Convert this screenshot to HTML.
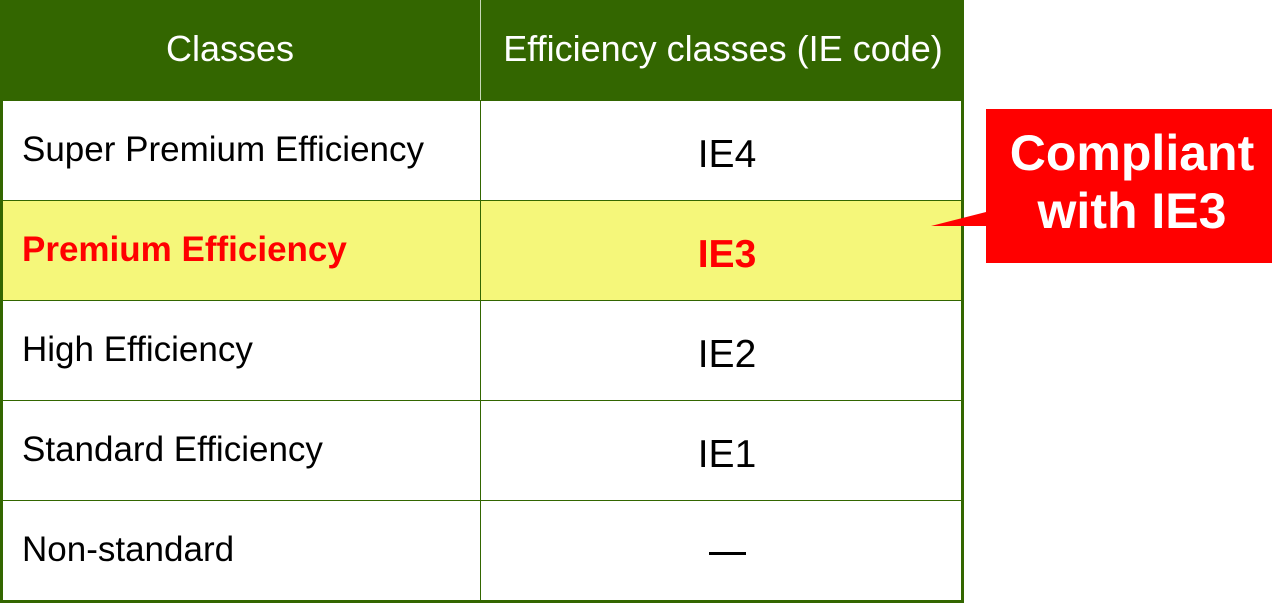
<!DOCTYPE html>
<html><head><meta charset="utf-8"><style>
html,body{margin:0;padding:0;background:#fff;width:1280px;height:603px;overflow:hidden;font-family:"Liberation Sans",Arial,sans-serif;}
.a{position:absolute;}
.t{position:absolute;font-size:35px;line-height:35px;white-space:nowrap;}
.c{text-align:center;width:480px;left:487px;font-size:39px;line-height:39px;}
</style></head><body>
<div class="a" style="left:0;top:0;width:964px;height:101px;background:#336600"></div>
<div class="a" style="left:0;top:200px;width:962px;height:100px;background:#f5f77a"></div>
<div class="a" style="left:0;top:0;width:3px;height:603px;background:#336600"></div>
<div class="a" style="left:961px;top:0;width:3px;height:603px;background:#336600"></div>
<div class="a" style="left:0;top:600px;width:964px;height:3px;background:#336600"></div>
<div class="a" style="left:480px;top:0;width:1px;height:600px;background:#336600"></div>
<div class="a" style="left:480px;top:0;width:1px;height:100px;background:#c8d8b8"></div>
<div class="a" style="left:0;top:200px;width:962px;height:1px;background:#336600"></div>
<div class="a" style="left:0;top:300px;width:962px;height:1px;background:#336600"></div>
<div class="a" style="left:0;top:400px;width:962px;height:1px;background:#336600"></div>
<div class="a" style="left:0;top:500px;width:962px;height:1px;background:#336600"></div>
<div class="t" style="left:-10px;width:480px;text-align:center;top:31px;color:#fff;font-size:36px;line-height:36px">Classes</div>
<div class="t" style="left:483px;width:480px;text-align:center;top:31px;color:#fff;font-size:36px;line-height:36px">Efficiency classes (IE code)</div>
<div class="t" style="left:22px;top:132px">Super Premium Efficiency</div>
<div class="t" style="left:22px;top:232px;color:#ff0000;font-weight:bold">Premium Efficiency</div>
<div class="t" style="left:22px;top:332px">High Efficiency</div>
<div class="t" style="left:22px;top:432px">Standard Efficiency</div>
<div class="t" style="left:22px;top:532px">Non-standard</div>
<div class="t c" style="top:135px">IE4</div>
<div class="t c" style="top:235px;color:#ff0000;font-weight:bold">IE3</div>
<div class="t c" style="top:335px">IE2</div>
<div class="t c" style="top:435px">IE1</div>
<div class="a" style="left:709px;top:552px;width:37px;height:3px;background:#000"></div>
<svg class="a" style="left:0;top:0" width="1280" height="603"><polygon points="931,226 990,211 990,226" fill="#ff0000"/></svg>
<div class="a" style="left:986px;top:109px;width:286px;height:154px;background:#ff0000"></div>
<div class="a" style="left:986px;top:124px;width:292px;text-align:center;color:#fff;font-weight:bold;font-size:50px;line-height:58px">Compliant<br>with IE3</div>
</body></html>
